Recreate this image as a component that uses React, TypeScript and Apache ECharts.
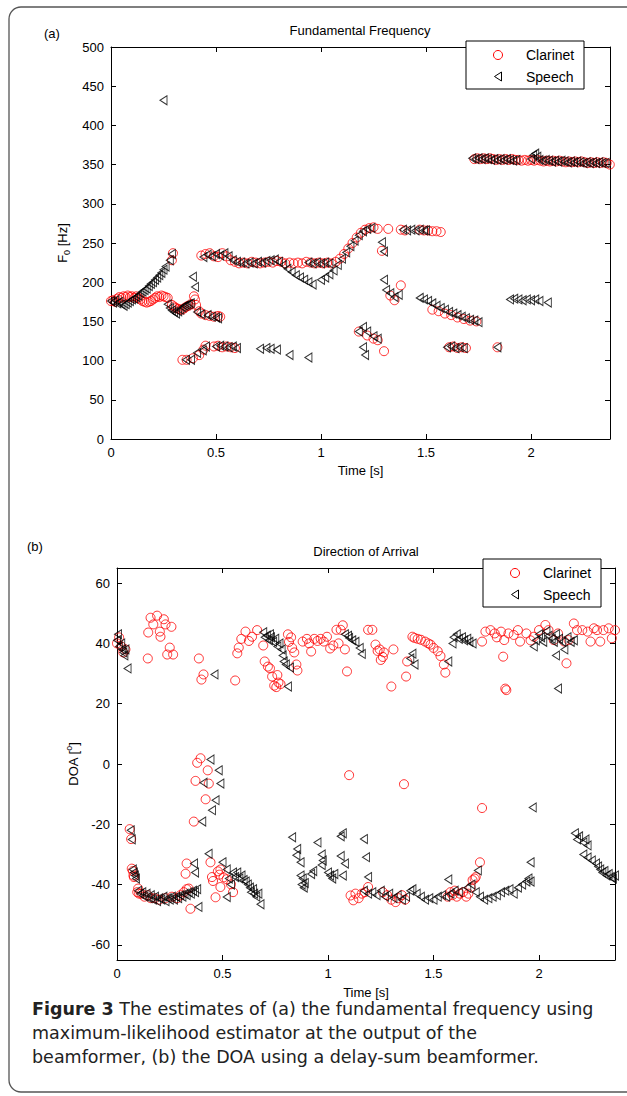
import React, { useEffect, useRef } from 'react';
import * as echarts from 'echarts';

// ---------- tick values ----------
const timeTicks = [0, 0.5, 1, 1.5, 2];
const f0Ticks = [0, 50, 100, 150, 200, 250, 300, 350, 400, 450, 500];
const doaTicks = [-60, -40, -20, 0, 20, 40, 60];

// ---------- (a) Fundamental frequency: Clarinet [time s, F0 Hz] ----------
const f0ClarinetLow: number[][] = [
  [0.00,176],[0.01,177],[0.02,175],[0.03,179],[0.04,181],[0.05,180],[0.06,182],[0.07,181],[0.08,183],[0.09,181],
  [0.10,182],[0.11,180],[0.12,182],[0.13,180],[0.14,178],[0.15,176],[0.16,175],[0.17,174],[0.18,175],[0.19,176],
  [0.20,178],[0.21,180],[0.22,182],[0.23,181],[0.24,183],[0.25,182],[0.26,181],[0.27,180],[0.29,171],[0.30,169],
  [0.31,167],[0.32,166],[0.33,165],[0.34,165],[0.35,167],[0.36,169],[0.37,170],[0.38,172],[0.395,182],[0.40,178],
  [0.405,171],[0.42,163],[0.43,160],[0.45,158],[0.47,157],[0.49,156],[0.51,157],[0.52,156],
  [0.29,228],[0.295,237],
  [0.34,101],[0.36,101],[0.39,103],[0.42,107],[0.44,114],[0.45,119],
  [0.49,118],[0.51,119],[0.53,117],[0.55,118],[0.57,117],[0.59,116],
  [1.18,137],[1.22,132],[1.25,128],[1.27,126],[1.30,112],
  [1.29,240],[1.33,183],[1.35,177],[1.38,196],
  [1.53,165],[1.56,163],[1.59,160],[1.62,158],[1.65,155],[1.68,153],[1.71,151],[1.74,150],
  [1.61,117],[1.63,118],[1.65,116],[1.67,117],[1.69,116],[1.84,117],
];
const f0ClarinetMid: number[][] = [
  [0.43,234],[0.45,236],[0.47,237],[0.49,233],[0.51,232],[0.53,237],[0.55,233],
  [0.57,228],[0.59,226],[0.61,224],[0.63,225],[0.65,224],[0.67,226],[0.69,225],[0.71,224],[0.73,225],[0.75,226],
  [0.77,225],[0.79,227],[0.81,226],[0.83,224],[0.85,225],[0.87,224],[0.89,225],[0.91,224],[0.93,226],[0.95,225],
  [0.97,224],[0.99,225],[1.01,224],[1.03,225],[1.05,224],[1.07,226],
  [1.09,230],[1.11,236],[1.13,243],[1.15,250],[1.17,257],[1.19,263],[1.21,267],[1.23,269],[1.25,270],[1.27,268],
  [1.32,268],[1.38,267],[1.40,266],
  [1.47,267],[1.49,266],[1.51,266],[1.53,265],[1.55,265],[1.57,264],
];
const f0ClarinetHigh: number[][] = [
  [1.73,357],[1.745,358],[1.76,357],[1.775,358],[1.79,357],[1.805,358],[1.82,357],[1.835,356],[1.85,357],[1.865,356],
  [1.88,357],[1.895,356],[1.91,357],[1.925,356],[1.94,356],[1.955,355],[1.97,356],[1.985,355],[2.00,356],[2.015,355],
  [2.03,356],[2.045,355],[2.06,354],[2.075,355],[2.09,354],[2.105,355],[2.12,354],[2.135,355],[2.15,354],[2.165,353],
  [2.18,354],[2.195,353],[2.21,354],[2.225,353],[2.24,354],[2.255,353],[2.27,352],[2.285,353],[2.30,352],[2.315,353],
  [2.33,352],[2.345,353],[2.36,352],[2.375,350],
];

// ---------- (a) Fundamental frequency: Speech ----------
const f0SpeechLow: number[][] = [
  [0.00,176],[0.01,174],[0.02,177],[0.03,173],[0.04,175],[0.05,172],[0.06,170],[0.07,172],[0.08,174],[0.09,176],
  [0.10,178],[0.11,179],[0.12,181],[0.13,183],[0.14,186],[0.15,188],[0.16,190],[0.17,192],[0.18,195],[0.19,198],
  [0.20,200],[0.21,203],[0.22,206],[0.23,209],[0.24,212],[0.25,216],[0.26,220],[0.28,228],[0.29,236],
  [0.27,172],[0.28,167],[0.29,164],[0.30,162],[0.31,160],[0.32,163],[0.33,165],[0.34,168],[0.35,170],[0.36,171],
  [0.37,172],[0.38,173],[0.39,207],[0.40,194],
  [0.41,162],[0.43,159],[0.46,158],[0.48,156],[0.50,155],[0.51,154],
  [0.25,432],
  [0.357,101],[0.381,101],[0.41,110],[0.437,113],[0.452,118],
  [0.50,118],[0.52,119],[0.54,118],[0.56,117],[0.58,118],[0.60,116],
  [0.71,115],[0.74,116],[0.76,115],[0.79,114],[0.85,107],[0.94,104],
  [1.18,137],[1.20,143],[1.22,137],[1.25,131],[1.27,128],[1.20,117],[1.21,107],
  [1.29,251],[1.30,239],[1.30,203],[1.31,190],[1.33,186],[1.35,181],[1.37,184],
  [1.47,180],[1.49,178],[1.51,176],[1.53,173],[1.55,170],[1.57,167],[1.59,165],[1.61,162],[1.63,160],[1.65,158],
  [1.67,156],[1.69,154],[1.71,152],[1.73,151],[1.75,149],
  [1.60,117],[1.62,118],[1.64,116],[1.66,117],[1.68,116],[1.84,117],
  [1.90,178],[1.92,179],[1.94,178],[1.96,177],[1.98,178],[2.00,177],[2.02,178],[2.04,176],[2.08,174],
];
const f0SpeechMid: number[][] = [
  [0.44,232],[0.46,235],[0.48,233],[0.50,236],[0.52,234],[0.54,237],[0.56,233],
  [0.58,228],[0.60,226],[0.62,225],[0.64,224],[0.66,225],[0.68,224],[0.70,226],[0.72,225],[0.74,227],[0.76,228],[0.78,229],
  [0.80,226],[0.82,222],[0.84,217],[0.86,213],[0.88,209],[0.90,206],[0.92,203],[0.94,200],[0.96,197],
  [0.94,225],[0.96,224],[0.98,225],[1.00,224],[1.02,225],[1.04,224],
  [1.00,203],[1.02,206],[1.04,210],[1.06,215],[1.08,222],[1.10,230],[1.12,238],[1.14,246],[1.16,253],[1.18,260],
  [1.20,265],[1.22,268],[1.24,269],
  [1.39,267],[1.41,266],[1.43,267],[1.45,266],[1.47,267],[1.49,266],[1.50,266],
];
const f0SpeechHigh: number[][] = [
  [1.72,358],[1.735,357],[1.75,358],[1.765,357],[1.78,358],[1.795,357],[1.81,356],[1.825,357],[1.84,356],[1.855,357],
  [1.87,356],[1.885,357],[1.90,356],[1.915,355],[1.93,356],[2.00,357],[2.01,362],[2.02,364],[2.03,360],[2.04,356],
  [2.055,355],[2.07,356],[2.085,355],[2.10,354],[2.115,355],[2.13,354],[2.145,355],[2.16,354],[2.175,353],[2.19,354],
  [2.205,353],[2.22,354],[2.235,353],[2.25,352],[2.265,353],[2.28,352],[2.295,353],[2.31,352],[2.325,353],[2.34,352],
  [2.355,352],
];

// ---------- (b) Direction of arrival: Clarinet [time s, DOA deg] ----------
const doaClarinetUpper: number[][] = [
  [0.00,40],[0.01,42],[0.02,39],[0.03,37],[0.04,38],
  [0.146,35],[0.148,43.6],[0.159,48.5],[0.172,46.3],[0.19,49.2],[0.203,43.9],[0.206,42.2],[0.222,48],[0.23,46.3],
  [0.258,45.5],[0.25,38.6],[0.238,36.3],[0.266,36.3],
  [0.388,35],[0.41,29.7],[0.40,28],[0.56,27.7],
  [0.57,36.7],[0.577,38.6],[0.589,41.5],[0.609,43.9],[0.625,40.8],[0.64,42.2],[0.664,44.4],[0.693,39.3],
  [0.70,34],[0.715,32.3],[0.725,31.7],[0.735,29],[0.745,26],[0.755,25.5],[0.765,27],[0.76,29.5],[0.775,26.5],
  [0.81,43],[0.815,40.5],[0.825,42],[0.83,38.5],[0.84,37],[0.85,33],[0.855,31],
  [0.88,40.6],[0.90,41.5],[0.91,40],[0.92,37.3],[0.935,41.5],[0.95,40.8],[0.965,41.5],[0.98,40.6],[0.995,42.2],
  [1.01,38.3],[1.025,39.3],[1.04,44.5],[1.05,40],[1.06,44.5],[1.07,46],[1.08,38],[1.09,30.7],
  [1.19,44.5],[1.21,44.5],[1.225,39.6],[1.235,37.5],[1.245,38],[1.25,34.5],[1.26,35.5],[1.265,37],
  [1.31,38],[1.30,25.7],[1.37,29],
  [1.375,34],[1.40,42.2],[1.41,41.8],[1.425,41.5],[1.44,41.2],[1.46,40.6],[1.475,40],[1.486,39.6],[1.50,38.5],
  [1.52,37.4],[1.533,35.8],[1.549,33],[1.556,30.3],
  [1.73,40.6],[1.746,43.9],[1.77,44.4],[1.79,43.3],[1.80,42],[1.82,43.9],[1.835,41.1],[1.855,43.3],[1.88,42.8],
  [1.90,44.4],[1.91,40.6],[1.94,43.3],[1.96,41],[1.975,42.2],[2.00,44.4],[2.03,46.1],[2.045,44.4],[2.07,41.1],
  [2.09,43.3],[2.12,40.6],[2.14,41.1],[2.165,46.6],[2.18,44.4],[2.205,44.4],[2.23,43.9],[2.244,40.6],[2.26,45],
  [2.275,44.4],[2.29,40.6],[2.305,44.4],[2.33,45],[2.345,41.7],[2.36,44.4],
  [1.83,35.6],[1.84,25],[1.845,24.5],[2.13,33.4],
];
const doaClarinetLower: number[][] = [
  [1.10,-3.7],[1.36,-6.7],[1.73,-14.6],
  [0.396,1.9],[0.38,0.4],[0.43,-2.1],[0.372,-5.6],[0.435,-6.5],[0.42,-11.7],[0.364,-19.1],
  [0.06,-21.6],[0.067,-24.9],[0.07,-34.7],[0.075,-35.5],[0.078,-37],[0.08,-37.5],
  [0.096,-42.5],[0.10,-41.3],[0.105,-43],[0.115,-43],[0.13,-44],[0.145,-43.5],[0.16,-44.5],[0.18,-44.5],
  [0.20,-45],[0.23,-44.5],[0.26,-44],[0.285,-44.5],[0.30,-43.5],[0.317,-42.5],[0.33,-41.5],[0.34,-41.3],
  [0.33,-33],[0.325,-36.4],[0.348,-48],
  [0.443,-32.6],[0.45,-37.5],[0.455,-38.8],[0.467,-44.2],[0.478,-35.6],[0.485,-36.7],[0.49,-40.8],[0.49,-35],
  [0.505,-37.6],[0.52,-38.2],[0.54,-39.9],[0.55,-42.5],
  [1.107,-43.6],[1.12,-45.2],[1.13,-43],[1.145,-44.5],[1.16,-43],[1.175,-42.5],[1.19,-40.8],
  [1.26,-42.5],[1.28,-43.5],[1.30,-45],[1.32,-45.8],[1.335,-44.5],[1.35,-43.5],[1.365,-45],
  [1.567,-44],[1.58,-42.5],[1.59,-43.5],[1.60,-42],[1.61,-44],[1.625,-43],[1.64,-42.5],[1.655,-44],[1.665,-43],
  [1.675,-41],[1.685,-38.5],[1.695,-38],[1.70,-37.5],[1.72,-32.6],
];

// ---------- (b) Direction of arrival: Speech ----------
const doaSpeechUpper: number[][] = [
  [0.00,41],[0.005,43],[0.01,39],[0.02,40],[0.025,38],[0.03,37],[0.035,36],[0.04,38],[0.05,31.7],
  [0.462,29.7],
  [0.693,43.7],[0.70,42],[0.71,42.6],[0.72,41],[0.725,43],[0.73,42],[0.74,40.5],[0.75,41.5],[0.76,39],
  [0.77,40],[0.78,38],[0.785,36],[0.79,34],[0.80,33],[0.82,32],[0.81,25.7],
  [1.08,43],[1.095,42.5],[1.10,41.8],[1.115,41],[1.13,40.5],[1.15,38.5],[1.16,36.5],
  [1.39,35],[1.40,36.6],[1.41,33],[1.57,34],
  [1.59,40],[1.595,42],[1.61,43],[1.62,41.5],[1.635,42],[1.645,41],[1.66,41.5],[1.67,40.5],[1.685,40],
  [1.975,39],[1.985,41],[2.00,43],[2.01,42],[2.02,40.5],[2.035,44],[2.045,42.5],[2.06,41.5],[2.07,40.5],
  [2.08,43],[2.095,41.5],[2.11,40.5],[2.12,38],[2.135,42],[2.15,40.5],[2.165,41],[2.08,36],[2.09,25],
];
const doaSpeechLower: number[][] = [
  [0.443,1.5],[0.482,-2.1],[0.49,-6.5],[0.467,-12],[0.45,-15.3],[0.404,-19.1],[0.41,-6.2],
  [0.065,-22],[0.07,-25],[0.075,-35],[0.08,-36],[0.085,-37],[0.09,-38],
  [0.10,-42],[0.11,-43],[0.12,-42.5],[0.13,-44],[0.14,-43],[0.15,-44.5],[0.16,-43.5],[0.17,-45],[0.18,-44],
  [0.19,-45.5],[0.20,-44.5],[0.21,-45],[0.22,-44],[0.23,-45.5],[0.24,-44.5],[0.25,-45],[0.26,-44],[0.27,-45],
  [0.28,-44],[0.29,-44.5],[0.30,-43.5],[0.31,-44],[0.32,-43],[0.33,-43.5],[0.34,-42.5],[0.35,-43],[0.36,-42],
  [0.37,-42.5],[0.38,-41.5],[0.386,-47.4],[0.365,-33],[0.37,-36],
  [0.434,-29.8],[0.50,-32.6],[0.52,-44.1],
  [0.52,-35],[0.53,-38],[0.54,-40],[0.55,-36],[0.56,-37.5],[0.57,-36],[0.58,-38],[0.59,-37],[0.60,-38.5],
  [0.61,-39],[0.62,-40],[0.63,-41],[0.635,-42.5],[0.645,-41.5],[0.65,-43],[0.66,-44],[0.67,-43],[0.68,-46.5],
  [0.83,-24.3],[0.854,-28.2],[0.85,-30.3],[0.87,-32.6],[0.87,-37],[0.88,-38],[0.89,-39.5],[0.875,-40],[0.885,-41],
  [0.92,-36.5],[0.93,-35.5],[0.95,-26],[0.97,-30],[0.975,-32],[0.97,-33.5],[1.00,-36],[1.01,-37],[1.02,-38],
  [1.03,-36.5],[1.06,-24],[1.07,-23],[1.06,-30.5],[1.08,-33],[1.07,-37],
  [1.17,-24.9],[1.18,-30.9],[1.19,-37.5],
  [1.17,-42],[1.19,-43],[1.21,-42.5],[1.23,-43.5],[1.25,-42],[1.27,-44],[1.29,-43],[1.31,-44.5],[1.33,-43.5],
  [1.35,-45],[1.37,-44],[1.39,-42],[1.40,-41.5],[1.42,-43],[1.44,-44],[1.46,-45],[1.48,-44.5],[1.50,-45],
  [1.52,-44],[1.54,-43.5],[1.56,-44],[1.57,-38.3],[1.58,-43],[1.60,-42],[1.62,-42.5],
  [1.66,-41],[1.68,-40],[1.70,-42.5],[1.71,-35.3],[1.72,-44],[1.74,-45],[1.76,-44.5],[1.78,-44],[1.80,-43.5],
  [1.82,-42.5],[1.84,-42],[1.86,-41.5],[1.88,-43],[1.90,-41],[1.92,-40],[1.94,-39],[1.95,-38],[1.96,-39],
  [1.96,-32.6],[1.97,-14.4],
  [2.17,-23],[2.18,-25],[2.19,-24],[2.21,-26],[2.22,-25],[2.23,-27],[2.21,-30],[2.23,-31],[2.25,-32],[2.27,-33],
  [2.28,-34],[2.29,-35],[2.30,-36],[2.31,-35.5],[2.32,-37],[2.33,-36.5],[2.34,-37.5],[2.35,-38],[2.36,-37],
];

const FONT = 'Liberation Sans';
const TRI = 'path://M7,0 L0,4.5 L7,9 Z';

function xAxisDef(gridIndex: number, position: 'bottom' | 'top', max: number, labels: boolean, nameGap: number) {
  return {
    type: 'value', gridIndex, position, min: 0, max,
    axisLine: { show: true, onZero: false, lineStyle: { color: '#000', width: 1 } },
    axisTick: { show: true, inside: true, length: 5, customValues: timeTicks, lineStyle: { color: '#000' } },
    axisLabel: { show: labels, customValues: timeTicks, color: '#000', fontSize: 13, fontFamily: FONT, margin: 7 },
    splitLine: { show: false },
    name: labels ? 'Time [s]' : '',
    nameLocation: 'middle', nameGap,
    nameTextStyle: { color: '#000', fontSize: 13, fontFamily: FONT },
  };
}

function yAxisDef(gridIndex: number, position: 'left' | 'right', min: number, max: number, ticks: number[], labels: boolean, name: string, rich: any, nameGap: number) {
  return {
    type: 'value', gridIndex, position, min, max,
    axisLine: { show: true, onZero: false, lineStyle: { color: '#000', width: 1 } },
    axisTick: { show: true, inside: true, length: 5, customValues: ticks, lineStyle: { color: '#000' } },
    axisLabel: { show: labels, customValues: ticks, color: '#000', fontSize: 13, fontFamily: FONT, margin: 7 },
    splitLine: { show: false },
    name, nameLocation: 'middle', nameRotate: 90, nameGap,
    nameTextStyle: { rich },
  };
}

const baseRich = {
  a: { fontSize: 13, fontFamily: FONT, color: '#000', lineHeight: 18, verticalAlign: 'middle' },
};

function legendGraphics(x: number, y: number) {
  return [
    { type: 'rect', z: 100, shape: { x, y, width: 118, height: 48 }, style: { fill: '#fff', stroke: '#000', lineWidth: 1 } },
    { type: 'circle', z: 101, shape: { cx: x + 32, cy: y + 14, r: 4.5 }, style: { fill: 'none', stroke: '#ff0000', lineWidth: 1 } },
    { type: 'polygon', z: 101, shape: { points: [[x + 35.5, y + 31], [x + 28.5, y + 35.5], [x + 35.5, y + 40]] }, style: { fill: 'none', stroke: '#000', lineWidth: 1 } },
    { type: 'text', z: 101, x: x + 60, y: y + 14, style: { text: 'Clarinet', fill: '#000', font: `14px "${FONT}"`, textVerticalAlign: 'middle', verticalAlign: 'middle' } },
    { type: 'text', z: 101, x: x + 60, y: y + 35.5, style: { text: 'Speech', fill: '#000', font: `14px "${FONT}"`, textVerticalAlign: 'middle', verticalAlign: 'middle' } },
  ];
}

export default function App() {
  const ref = useRef<HTMLDivElement>(null);
  useEffect(() => {
    if (!ref.current) return;
    const chart = echarts.init(ref.current, undefined, { renderer: 'svg' });
    const circleStyle = { color: 'transparent', borderColor: '#ff0000', borderWidth: 1 };
    const triStyle = { color: 'transparent', borderColor: '#000000', borderWidth: 1 };
    const captionFont = '"DejaVu Sans"';
    const cSize = 17.5;
    const capStyle = { fill: '#222', font: `${cSize}px ${captionFont}`, verticalAlign: 'middle', textVerticalAlign: 'middle', lineHeight: 20 };
    const option: any = {
      animation: false,
      backgroundColor: '#fff',
      grid: [
        { left: 111, top: 47, width: 499, height: 392 },
        { left: 117, top: 568, width: 498, height: 392 },
      ],
      xAxis: [
        xAxisDef(0, 'bottom', 2.376, true, 25),
        xAxisDef(0, 'top', 2.376, false, 25),
        xAxisDef(1, 'bottom', 2.36, true, 26),
        xAxisDef(1, 'top', 2.36, false, 26),
      ],
      yAxis: [
        yAxisDef(0, 'left', 0, 500, f0Ticks, true, '{a|F}{b|0}{a| [Hz]}', { ...baseRich, b: { fontSize: 9, fontFamily: FONT, color: '#000', lineHeight: 9, verticalAlign: 'bottom' } }, 28),
        yAxisDef(0, 'right', 0, 500, f0Ticks, false, '', baseRich, 28),
        yAxisDef(1, 'left', -65, 65, doaTicks, true, '{a|DOA [}{b|o}{a|]}', { ...baseRich, b: { fontSize: 9, fontFamily: FONT, color: '#000', lineHeight: 9, verticalAlign: 'top' } }, 31),
        yAxisDef(1, 'right', -65, 65, doaTicks, false, '', baseRich, 31),
      ],
      series: [
        { type: 'scatter', name: 'Clarinet', xAxisIndex: 0, yAxisIndex: 0, symbol: 'circle', symbolSize: 9, itemStyle: circleStyle,
          data: [...f0ClarinetLow, ...f0ClarinetMid, ...f0ClarinetHigh] },
        { type: 'scatter', name: 'Speech', xAxisIndex: 0, yAxisIndex: 0, symbol: TRI, symbolSize: [7, 9], itemStyle: triStyle,
          data: [...f0SpeechLow, ...f0SpeechMid, ...f0SpeechHigh] },
        { type: 'scatter', name: 'Clarinet', xAxisIndex: 2, yAxisIndex: 2, symbol: 'circle', symbolSize: 9, itemStyle: circleStyle,
          data: [...doaClarinetUpper, ...doaClarinetLower] },
        { type: 'scatter', name: 'Speech', xAxisIndex: 2, yAxisIndex: 2, symbol: TRI, symbolSize: [7, 9], itemStyle: triStyle,
          data: [...doaSpeechUpper, ...doaSpeechLower] },
      ],
      graphic: [
        { type: 'rect', z: 0, silent: true, shape: { x: 9, y: 7, width: 700, height: 1085, r: 12 }, style: { fill: 'none', stroke: '#555', lineWidth: 1.3 } },
        { type: 'text', x: 360, y: 30, style: { text: 'Fundamental Frequency', fill: '#000', font: `13px "${FONT}"`, textAlign: 'center', textVerticalAlign: 'middle', align: 'center', verticalAlign: 'middle' } },
        { type: 'text', x: 366, y: 551, style: { text: 'Direction of Arrival', fill: '#000', font: `13px "${FONT}"`, textAlign: 'center', textVerticalAlign: 'middle', align: 'center', verticalAlign: 'middle' } },
        { type: 'text', x: 44, y: 33, style: { text: '(a)', fill: '#000', font: `13px "${FONT}"`, verticalAlign: 'middle', textVerticalAlign: 'middle' } },
        { type: 'text', x: 27, y: 546, style: { text: '(b)', fill: '#000', font: `13px "${FONT}"`, verticalAlign: 'middle', textVerticalAlign: 'middle' } },
        ...legendGraphics(466, 41),
        ...legendGraphics(483, 559),
        { type: 'text', x: 32, y: 1009, style: { ...capStyle, text: '{b|Figure 3} The estimates of (a) the fundamental frequency using', rich: { b: { fontWeight: 'bold', fontSize: cSize, fontFamily: captionFont, fill: '#222', lineHeight: 20 } } } },
        { type: 'text', x: 32, y: 1033, style: { ...capStyle, text: 'maximum-likelihood estimator at the output of the' } },
        { type: 'text', x: 32, y: 1057, style: { ...capStyle, text: 'beamformer, (b) the DOA using a delay-sum beamformer.' } },
      ],
    };
    chart.setOption(option);
    return () => chart.dispose();
  }, []);
  return <div ref={ref} style={{ position: 'absolute', left: 0, top: 0, width: 627, height: 1096 }} />;
}
